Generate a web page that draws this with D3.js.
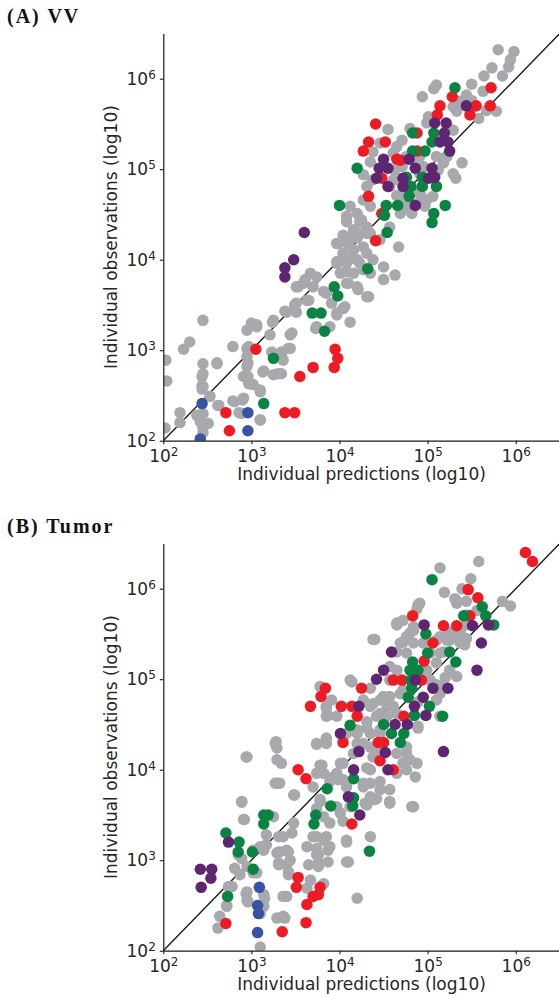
<!DOCTYPE html>
<html>
<head>
<meta charset="utf-8">
<script src="https://cdnjs.cloudflare.com/ajax/libs/d3/7.8.5/d3.min.js"></script>
<style>
  body { margin: 0; background: #fff; }
  svg { display: block; }
  .tick text { font-family: "DejaVu Sans", sans-serif; font-size: 17px; fill: #262626; }
  .axis-title { font-family: "DejaVu Sans", sans-serif; font-size: 17px; fill: #262626; }
  .panel-title { font-family: "Liberation Serif", serif; font-weight: bold; font-size: 20px; letter-spacing: 2px; fill: #111; }
</style>
</head>
<body>
<div id="chart"></div>
<script>
  // all values are log10 : [prediction, observation]
  var tickExps = [2, 3, 4, 5, 6];

  var vvGrey = [
      [5.80,6.32],[5.98,6.30],[5.94,6.21],[5.92,6.13],[5.73,6.12],[5.85,6.03],[5.64,6.03],[5.50,5.94],[5.63,5.86],[5.78,5.64],
      [5.67,5.65],[5.58,5.56],[5.44,5.82],[5.37,5.75],[5.33,5.64],[5.29,5.69],[5.10,5.93],[5.07,5.89],[4.94,5.80],[5.01,5.58],
      [5.22,5.47],[5.29,5.43],[5.39,5.07],[5.29,4.95],[5.32,4.90],[4.80,5.45],[4.55,5.44],[4.99,5.51],[4.46,5.29],[4.38,5.19],
      [4.35,5.08],[4.65,5.25],[4.61,5.18],[4.71,5.32],[4.76,5.14],[4.91,5.14],[5.10,5.14],[5.18,5.07],[5.22,5.14],[4.27,4.94],
      [4.31,4.81],[4.37,4.88],[4.57,4.81],[4.61,4.88],[4.65,4.71],[4.71,4.70],[4.93,4.70],[4.99,4.66],[5.06,4.70],[4.27,4.66],
      [4.35,4.59],[4.12,4.59],[4.20,4.51],[4.08,4.48],[4.25,4.44],[4.31,4.36],[4.16,4.33],[4.23,4.29],[4.04,4.27],[3.97,4.18],
      [4.10,4.18],[4.67,4.14],[4.35,4.29],[4.46,4.22],[4.57,4.36],[4.69,4.51],[4.76,4.59],[4.82,4.51],[4.89,4.62],[4.97,4.59],
      [4.86,4.75],[4.91,4.95],[4.88,5.10],[4.71,5.03],[4.95,5.03],[5.12,4.99],[4.63,4.99],[5.52,5.69],[5.50,5.76],
      [4.08,4.42],[4.23,4.42],[3.97,4.18],[4.08,4.25],[4.20,4.29],[4.31,4.33],[4.04,4.07],[4.16,4.11],[4.27,4.14],[3.97,3.96],
      [4.08,3.96],[4.20,4.00],[4.31,4.07],[4.01,3.85],[4.16,3.85],[4.27,3.89],[4.20,3.70],[4.08,3.74],[4.31,3.59],[3.67,3.85],
      [3.74,3.81],[3.59,3.74],[3.51,3.70],[3.70,3.70],[3.63,3.55],[3.85,3.63],[3.91,3.52],[4.04,3.46],[3.97,3.39],[4.12,3.31],
      [3.40,3.42],[3.51,3.42],[3.51,3.52],[3.74,3.26],[3.89,3.26],[3.25,3.33],[3.21,3.17],[3.00,3.30],[2.95,3.22],[3.06,3.26],
      [3.44,3.17],[2.79,3.04],[2.97,3.04],[2.95,2.93],[2.95,2.82],[2.91,2.71],[2.97,2.63],[3.10,2.56],[3.23,2.98],[3.34,2.98],
      [3.42,3.02],[3.36,2.89],[3.30,2.74],[3.13,2.76],[2.61,2.85],[2.45,3.33],[2.45,2.85],[2.45,2.74],[2.44,2.61],[2.53,2.49],
      [2.62,2.39],[2.81,2.43],[2.91,2.47],[2.89,2.30],[3.10,2.23],[2.45,2.30],[2.45,2.15],
      [2.03,2.89],[2.04,2.66],[2.23,3.01],[2.30,3.09],[2.19,2.31],[2.19,2.20],[2.38,2.28],[2.42,2.21],[2.51,2.19],[2.45,2.09],
      [2.02,2.14],[2.61,2.86],[2.44,2.71],[2.45,2.60],[2.44,2.57],[2.95,3.02],[2.96,2.86],[2.96,2.71],[3.02,2.62],[3.14,2.77],
      [3.10,2.54],[2.79,2.44],[2.90,2.45],[2.63,2.39],[3.10,2.23],[2.86,2.31],[3.25,2.73],[3.06,3.28],[3.24,3.31],
      [3.99,4.18],[4.08,4.22],[4.20,4.24],[4.31,4.29],[3.97,3.98],[4.14,4.02],[4.23,3.96],[4.38,4.00],[4.50,3.92],[4.63,3.83],
      [4.50,3.78],[4.35,3.85],[4.08,3.87],[3.61,3.78],[3.53,3.70],[3.82,3.65],[4.10,3.74],[4.21,3.67],[4.33,3.59],[4.06,3.48],
      [3.49,3.50],[3.38,3.43],[3.65,3.55],[3.97,3.41],[3.73,3.24],[3.46,3.19],[3.44,3.02],[3.34,2.95],[3.34,2.74]
  ];
  var vvRed = [
      [5.72,5.90],[5.28,5.80],[5.55,5.70],[5.71,5.70],[5.14,5.70],[5.48,5.60],[5.11,5.60],[4.41,5.50],[4.88,5.40],[4.33,5.30],
      [4.52,5.30],[4.27,5.20],[4.88,5.20],[4.65,5.11],[4.69,5.10],[4.48,4.90],[4.33,4.70],[4.48,4.51],[4.41,4.21],[3.95,3.01],
      [3.98,2.91],[3.94,2.81],[3.70,2.81],[3.55,2.71],[3.38,2.31],[3.49,2.31],[3.05,3.01],[2.71,2.31],[2.75,2.11]
  ];
  var vvGreen = [
      [5.31,5.90],[4.83,5.40],[5.07,5.40],[5.05,5.30],[4.83,5.20],[4.97,5.20],[4.20,5.01],[4.76,4.91],[4.94,4.91],[4.81,4.81],
      [4.94,4.81],[5.10,4.81],[4.79,4.70],[4.00,4.60],[4.53,4.60],[4.66,4.60],[5.20,4.60],[4.51,4.49],[5.07,4.51],[5.05,4.41],
      [4.54,4.30],[4.32,3.90],[3.94,3.70],[3.98,3.60],[3.69,3.41],[3.79,3.41],[3.83,3.21],[3.25,2.91],[3.14,2.41]
  ];
  var vvPurple = [
      [5.44,5.70],[5.08,5.51],[5.21,5.51],[5.19,5.40],[5.23,5.30],[5.14,5.30],[5.25,5.20],[4.50,5.11],[4.79,5.11],[4.45,5.01],
      [4.55,5.01],[4.86,5.01],[5.05,5.01],[4.42,4.90],[4.72,4.90],[5.08,4.91],[5.01,4.90],[4.55,4.81],[4.72,4.81],[4.86,4.60],
      [3.60,4.30],[3.48,4.00],[3.38,3.91],[3.38,3.81]
  ];
  var vvBlue = [[2.44,2.41],[2.96,2.31],[2.96,2.11],[2.42,2.02]];

  var tumorGrey = [
      [5.14,6.23],[5.58,6.30],[5.49,6.11],[5.39,6.00],[5.19,5.96],[5.31,5.89],[5.33,5.84],[5.85,5.86],[5.94,5.81],[4.91,5.84],
      [4.88,5.78],[4.65,5.60],[4.40,5.44],[5.39,5.47],[5.42,5.38],[5.29,5.47],[4.69,5.40],[4.76,5.47],[4.84,5.54],[5.33,5.03],
      [4.14,4.97],[3.78,4.92],[3.85,4.70],[3.85,4.59],[3.74,4.28],[3.85,4.35],[4.08,4.40],[4.20,4.44],[4.31,4.53],[4.35,4.40],
      [4.46,4.44],[4.89,4.46],[4.38,4.73],[4.46,4.62],[4.54,4.77],[4.61,4.70],[4.69,4.84],[5.03,4.99],[5.10,4.94],[5.20,5.02],
      [5.25,5.10],[4.99,5.10],[5.10,5.18],[5.18,5.30],[5.10,5.43],[5.22,5.43],[5.25,5.52],[5.37,5.54],[5.44,5.60],[5.44,5.71],
      [5.56,5.76],
      [4.89,5.82],[4.65,5.62],[4.38,5.44],[4.72,5.41],[4.84,5.40],[4.65,5.30],[4.76,5.29],[4.95,5.40],[5.14,5.47],[5.25,5.43],
      [5.37,5.40],[5.44,5.45],[5.14,5.29],[5.03,5.29],[4.80,5.51],[4.84,5.58],[4.72,5.65],[5.33,5.86],[5.44,5.86],[5.14,4.92],
      [5.10,4.77],[5.14,4.59],[4.89,4.48],[4.86,3.92],[4.82,3.59],[4.57,3.65],[4.40,3.67],[4.29,3.63],[4.12,4.99],[4.35,4.90],
      [3.91,4.77],[3.97,4.59],[4.27,4.77],[4.35,4.70],[4.46,4.77],[4.54,4.70],[4.42,4.59],[4.54,4.59],[4.65,4.62],[4.31,4.46],
      [4.20,4.40],[4.27,4.29],[4.16,4.18],[4.38,4.14],[4.65,4.18],[4.76,4.18],[4.72,4.07],[4.80,4.11],[4.35,4.00],[4.27,3.85],
      [4.46,3.87],[4.35,3.70],[4.01,4.07],[4.04,3.89],[3.93,3.92],[4.57,3.78],[4.65,3.96],[4.88,4.07],[4.46,4.40],[4.57,5.14],
      [4.65,5.10],[4.57,4.99],[4.72,4.88],[4.57,4.81],[4.50,4.81],[5.14,4.84],[4.89,4.75],
      [3.74,4.29],[3.85,4.29],[3.34,4.07],[3.78,4.05],[3.74,3.96],[3.97,3.96],[3.89,3.87],[3.48,3.72],[3.78,3.65],[3.97,3.59],
      [4.12,3.59],[4.31,3.61],[4.42,3.68],[4.57,3.63],[4.84,3.59],[4.76,4.00],[4.76,4.25],[4.31,4.02],[4.35,3.85],[4.46,3.78],
      [4.27,3.81],[4.08,3.81],[4.04,3.43],[4.08,3.22],[4.35,3.26],[3.89,3.41],[3.82,3.48],[3.70,3.26],[3.82,3.22],[3.87,3.11],
      [3.76,3.06],[3.63,3.15],[3.40,3.11],[3.48,3.41],[3.36,3.26],[3.65,2.95],[3.76,2.93],[3.87,2.98],[4.10,2.98],[4.20,2.58],
      [3.40,2.95],[3.42,2.84],[3.82,2.74],[3.67,2.78],[3.36,2.60],[3.36,2.38],[4.20,4.29],[4.35,4.25],[4.46,4.22],
      [3.28,4.31],[3.29,4.24],[3.29,4.11],[2.95,4.14],[3.85,4.33],[3.87,4.60],[3.85,4.68],[3.80,4.05],[3.82,3.96],[4.04,4.07],
      [3.99,3.89],[3.70,3.81],[3.49,3.72],[3.29,3.85],[3.32,3.85],[2.89,3.65],[2.91,3.45],[3.78,3.67],[4.01,3.52],[3.74,3.57],
      [3.31,3.26],[3.46,3.30],[3.17,3.28],[3.17,3.17],[3.10,3.15],[3.32,3.09],[3.42,3.09],[3.44,3.00],[3.31,2.97],[2.89,3.02],
      [3.74,3.26],[3.85,3.26],[3.89,3.15],[3.74,3.13],[3.74,3.06],[3.76,2.97],[4.08,3.20],[4.08,2.98],[3.42,2.87],[3.63,2.69],
      [2.95,2.65],[2.95,2.56],[3.15,2.58],[3.14,2.49],[2.74,2.71],[2.72,2.49],[2.64,2.38],[2.62,2.25],[3.40,2.60],[3.29,2.36],
      [3.38,2.36],[3.10,2.04],[3.06,2.86],[2.94,4.14],[2.89,3.64],[2.92,3.45],[3.27,4.29],[3.27,3.85],[3.14,3.11],[3.31,3.09],
      [3.31,2.95],[2.95,2.93],[2.87,2.84],[2.94,2.63],[2.96,2.54],[3.14,2.62],[3.10,2.41],[2.78,2.71],[2.72,2.50],[3.02,2.86],
      [2.81,2.91],[2.85,3.06],[3.25,3.48],[3.02,3.11],[3.29,3.08]
  ];
  var tumorRed = [
      [6.11,6.40],[6.19,6.30],[5.46,5.99],[5.57,5.90],[5.48,5.70],[4.83,5.70],[5.18,5.59],[5.33,5.59],[5.06,5.40],[4.96,5.20],
      [4.61,4.99],[4.71,4.99],[4.93,4.99],[4.25,4.90],[3.84,4.90],[3.79,4.81],[3.67,4.70],[4.02,4.70],[4.14,4.70],[4.20,4.59],
      [4.73,4.59],[4.04,4.30],[4.44,4.30],[4.50,4.30],[4.46,4.10],[4.61,4.00],[3.53,4.00],[3.62,3.90],[4.14,3.40],[3.53,2.81],
      [3.51,2.70],[3.78,2.70],[3.70,2.60],[3.76,2.62],[3.63,2.51],[3.62,2.31],[3.35,2.21],[2.71,2.30]
  ];
  var tumorGreen = [
      [5.05,6.10],[5.62,5.80],[5.41,5.70],[5.66,5.70],[5.75,5.60],[4.98,5.50],[5.00,5.29],[5.25,5.30],[5.32,5.19],[4.83,5.19],
      [4.80,5.10],[4.89,5.10],[4.81,4.99],[4.82,4.90],[4.78,4.80],[5.02,4.70],[4.85,4.60],[5.17,4.59],[4.12,4.49],[4.50,4.50],
      [4.59,4.40],[4.73,4.40],[4.69,4.30],[4.16,3.90],[3.86,3.79],[3.90,3.60],[4.16,3.69],[4.15,3.60],[3.73,3.50],[3.71,3.40],
      [4.34,3.10],[3.14,3.50],[3.19,3.50],[3.14,3.40],[2.71,3.30],[2.86,3.20],[2.85,3.09],[3.01,3.09],[3.02,2.90],[2.73,2.60]
  ];
  var tumorPurple = [
      [4.96,5.60],[5.51,5.59],[5.69,5.60],[5.61,5.40],[4.59,5.30],[4.50,5.10],[4.42,5.00],[4.86,4.99],[5.56,5.10],[5.06,4.90],
      [5.23,4.90],[4.95,4.80],[4.22,4.70],[4.85,4.70],[4.98,4.60],[4.63,4.50],[4.77,4.50],[4.01,4.40],[4.22,4.20],[4.52,4.19],
      [5.18,4.20],[4.16,4.00],[4.55,4.00],[4.10,3.70],[4.23,3.50],[2.74,3.20],[2.42,2.90],[2.55,2.90],[2.54,2.80],[2.43,2.70]
  ];
  var tumorBlue = [[3.09,2.70],[3.07,2.50],[3.08,2.41],[3.07,2.20]];

  var colGrey = "#a7a9ac", colRed = "#ed1c24", colGreen = "#0b8443",
      colPurple = "#5e2670", colBlue = "#3953a4";

  var svg = d3.select("#chart")
      .append("svg")
      .attr("width", 559)
      .attr("height", 997);

  // scales (shared by both panels)
  var x = d3.scaleLinear().domain([2, 6.5]).range([163.3, 559.8]);
  var y = d3.scaleLinear().domain([2, 6.5]).range([440.7, 33.45]);

  function drawPanel(offsetY, id, title, groups) {
      var g = svg.append("g").attr("transform", "translate(0," + offsetY + ")");

      g.append("clipPath").attr("id", "clip" + id)
          .append("rect")
          .attr("x", x(2)).attr("y", y(6.5))
          .attr("width", x(6.5) - x(2)).attr("height", y(2) - y(6.5));

      g.append("text").attr("class", "panel-title")
          .attr("x", 7).attr("y", 23)
          .text(title);

      var plot = g.append("g").attr("clip-path", "url(#clip" + id + ")");

      // identity line
      plot.append("line")
          .attr("x1", x(2)).attr("y1", y(2))
          .attr("x2", x(6.5)).attr("y2", y(6.5))
          .attr("stroke", "#1a1a1a")
          .attr("stroke-width", 1.4);

      groups.forEach(function (grp) {
          plot.append("g").selectAll("circle")
              .data(grp.data)
              .enter()
              .append("circle")
              .attr("cx", function (d) { return x(d[0]); })
              .attr("cy", function (d) { return y(d[1]); })
              .attr("r", 5.75)
              .attr("fill", grp.color);
      });

      // X axis
      var xAxis = g.append("g")
          .attr("transform", "translate(0," + y(2) + ")")
          .call(d3.axisBottom(x).tickValues(tickExps).tickSize(3.5).tickSizeOuter(0).tickPadding(5.4));

      // Y axis
      var yAxis = g.append("g")
          .attr("transform", "translate(" + x(2) + ",0)")
          .call(d3.axisLeft(y).tickValues(tickExps).tickSize(3.5).tickSizeOuter(0).tickPadding(4));

      [xAxis, yAxis].forEach(function (ax) {
          ax.select(".domain").attr("stroke", "#1a1a1a").attr("stroke-width", 1.2);
          ax.selectAll(".tick line").attr("stroke", "#1a1a1a").attr("stroke-width", 1.1);
          ax.selectAll(".tick text")
              .attr("font-family", null).attr("font-size", null)
              .each(function (d) {
                  var t = d3.select(this).text("");
                  t.append("tspan").text("10");
                  t.append("tspan").attr("font-size", 12).attr("dy", -6).text(d);
              });
      });

      g.append("text").attr("class", "axis-title")
          .attr("x", (x(2) + x(6.5)) / 2)
          .attr("y", 480)
          .attr("text-anchor", "middle")
          .text("Individual predictions (log10)");

      g.append("text").attr("class", "axis-title")
          .attr("transform", "translate(117," + (y(2) + y(6.5)) / 2 + ") rotate(-90)")
          .attr("text-anchor", "middle")
          .text("Individual observations (log10)");
  }

  drawPanel(0, "A", "(A) VV", [
      {data: vvGrey, color: colGrey},
      {data: vvRed, color: colRed},
      {data: vvGreen, color: colGreen},
      {data: vvPurple, color: colPurple},
      {data: vvBlue, color: colBlue}
  ]);

  drawPanel(510, "B", "(B) Tumor", [
      {data: tumorGrey, color: colGrey},
      {data: tumorRed, color: colRed},
      {data: tumorGreen, color: colGreen},
      {data: tumorPurple, color: colPurple},
      {data: tumorBlue, color: colBlue}
  ]);
</script>
</body>
</html>
